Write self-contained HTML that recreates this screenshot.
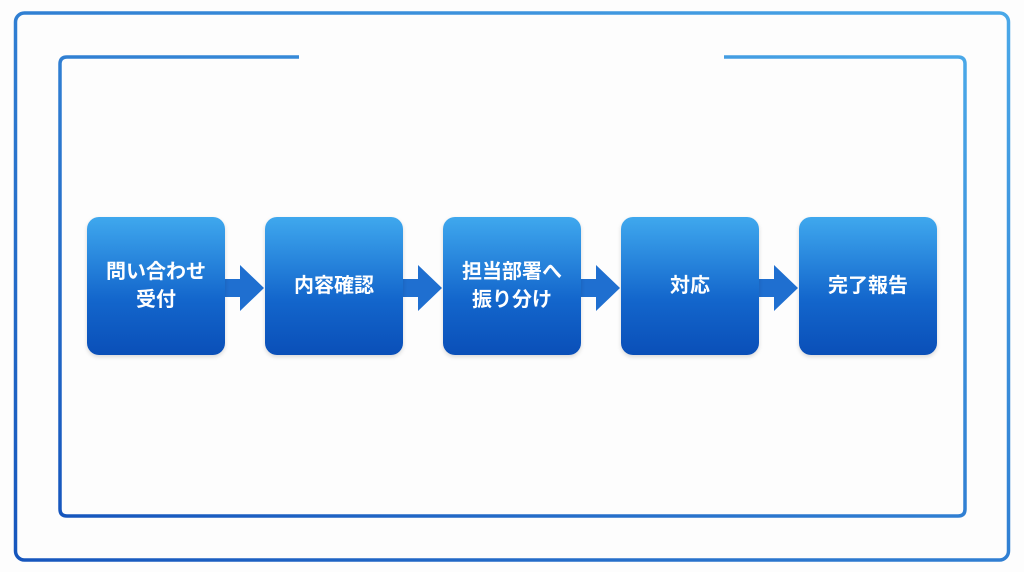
<!DOCTYPE html><html><head><meta charset="utf-8"><style>
body{margin:0;width:1024px;height:572px;background:#fdfdfd;overflow:hidden;position:relative;font-family:"Liberation Sans","Noto Sans CJK JP",sans-serif}
.b{position:absolute;top:217px;width:138px;height:138px;border-radius:12px;background:linear-gradient(#3fa8ee,#1366cc 60%,#0a4fb8);color:#fff;font-weight:bold;font-size:20px;line-height:28px;display:flex;align-items:center;justify-content:center;text-align:center;box-shadow:0 2px 4px rgba(0,0,0,.15)}
</style></head><body>
<svg width="1024" height="572" style="position:absolute;left:0;top:0">
<defs><linearGradient id="g" x1="0" y1="1" x2="1" y2="0"><stop offset="0" stop-color="#1656bd"/><stop offset="1" stop-color="#4aa8e8"/></linearGradient></defs>
<rect x="15.5" y="13" width="993" height="547" rx="9" fill="none" stroke="url(#g)" stroke-width="3.5"/>
<path d="M299 57 H67 Q60 57 60 64 V509 Q60 516 67 516 H958 Q965 516 965 509 V64 Q965 57 958 57 H724" fill="none" stroke="url(#g)" stroke-width="3.5"/>
<g fill="#1f6fd0">
<path d="M224 279 H240 V265 L264 288 L240 311 V297 H224Z"/>
<path d="M402 279 H418 V265 L442 288 L418 311 V297 H402Z"/>
<path d="M580 279 H596 V265 L620 288 L596 311 V297 H580Z"/>
<path d="M758 279 H774 V265 L798 288 L774 311 V297 H758Z"/>
</g></svg>
<div class="b" style="left:87px">問い合わせ<br>受付</div>
<div class="b" style="left:265px">内容確認</div>
<div class="b" style="left:443px">担当部署へ<br>振り分け</div>
<div class="b" style="left:621px">対応</div>
<div class="b" style="left:799px">完了報告</div>
</body></html>
